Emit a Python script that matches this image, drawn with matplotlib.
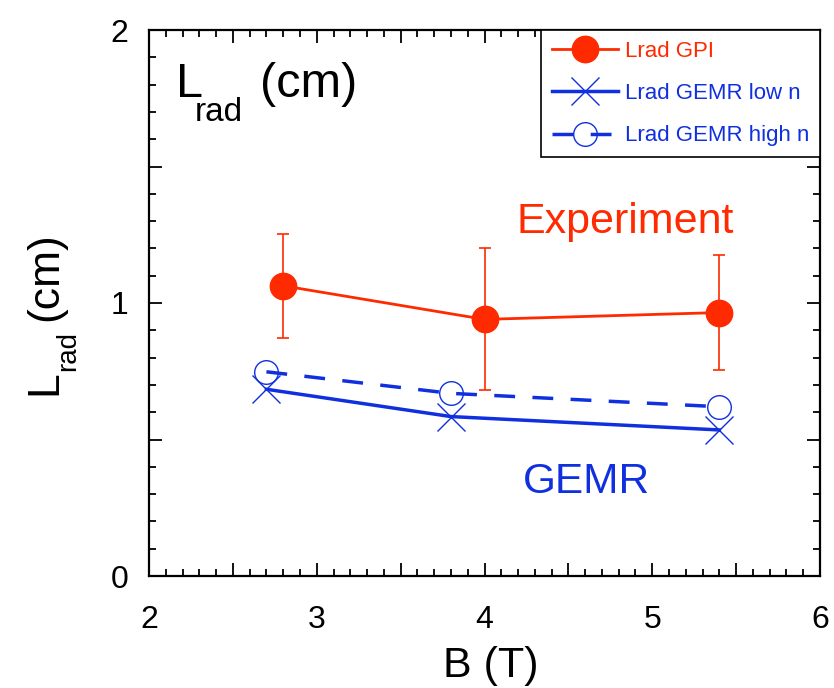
import matplotlib
matplotlib.use("Agg")
import matplotlib.pyplot as plt
from matplotlib.ticker import MultipleLocator, FuncFormatter

plt.rcParams['font.family'] = ['Liberation Sans', 'DejaVu Sans']

# data
b_gpi = [2.8, 4.0, 5.4]
l_gpi = [1.063, 0.940, 0.965]
err_gpi = [0.19, 0.26, 0.21]

b_gemr = [2.7, 3.8, 5.4]
l_gemr_low = [0.684, 0.584, 0.535]
l_gemr_high = [0.748, 0.669, 0.620]

red = '#ff2a00'
blue = '#1030e0'

W, H = 834, 688
fig = plt.figure(figsize=(W / 100, H / 100), dpi=100)
ax = fig.add_axes([149 / W, 1 - 576 / H, (820 - 149) / W, (576 - 30) / H])


def ftext(x, y, s, **kw):
    return fig.text(x / W, 1 - y / H, s, **kw)


eb = ax.errorbar(b_gpi, l_gpi, yerr=err_gpi, color=red, lw=2.0, marker='o', ms=19,
                 elinewidth=1.2, capsize=4, capthick=1.2, label='Lrad GPI', zorder=3)
ln_low, = ax.plot(b_gemr, l_gemr_low, color=blue, lw=2.5, marker='x', ms=20, mew=1.0,
                  label='Lrad GEMR low n', zorder=2)
ln_high, = ax.plot(b_gemr, l_gemr_high, color=blue, lw=2.5, ls=(0, (6, 5)), marker='o',
                   ms=17, mfc='none', mew=1.0, label='Lrad GEMR high n', zorder=2)

ax.set_xlim(2, 6)
ax.set_ylim(0, 2)
ax.xaxis.set_major_locator(MultipleLocator(0.5))
ax.xaxis.set_minor_locator(MultipleLocator(0.1))
ax.yaxis.set_major_locator(MultipleLocator(0.5))
ax.yaxis.set_minor_locator(MultipleLocator(0.1))
fmt = FuncFormatter(lambda v, p: f"{int(round(v))}" if abs(v - round(v)) < 1e-6 else "")
ax.xaxis.set_major_formatter(fmt)
ax.yaxis.set_major_formatter(fmt)
ax.tick_params(which='both', direction='in', top=True, right=True, width=1.3)
ax.tick_params(which='major', length=9.5, labelsize=23)
ax.tick_params(axis='x', which='major', pad=21)
ax.tick_params(axis='y', which='major', pad=15)
ax.tick_params(which='minor', length=5)
for s in ax.spines.values():
    s.set_linewidth(1.6)

# x label
ftext(491, 677, 'B (T)', fontsize=31, ha='center', va='baseline')

# y label built from parts (L, subscript rad, (cm))
ftext(56, 395, 'L', fontsize=32, rotation=90, rotation_mode='anchor', ha='left', va='baseline')
ftext(75, 371, 'rad', fontsize=20, rotation=90, rotation_mode='anchor', ha='left', va='baseline')
ftext(57, 321, '(cm)', fontsize=32, rotation=90, rotation_mode='anchor', ha='left', va='baseline')

# in-plot label
ftext(176, 97, 'L', fontsize=35, ha='left', va='baseline')
ftext(195, 121, 'rad', fontsize=24, ha='left', va='baseline')
ftext(260, 97, '(cm)', fontsize=35, ha='left', va='baseline')

ax.text(4.84, 1.297, 'Experiment', color=red, fontsize=31, ha='center', va='center')
ax.text(4.605, 0.344, 'GEMR', color=blue, fontsize=30.5, ha='center', va='center')

leg = ax.legend([eb, ln_low, ln_high], ['Lrad GPI', 'Lrad GEMR low n', 'Lrad GEMR high n'],
                loc='upper right', bbox_to_anchor=(1.0, 1.0), fontsize=16,
                frameon=True, fancybox=False, borderaxespad=0, handlelength=2.95,
                labelspacing=0.95, borderpad=0.5, handletextpad=0.3, framealpha=1)
leg.get_frame().set_edgecolor('black')
leg.get_frame().set_linewidth(1.2)
for txt, c in zip(leg.get_texts(), [red, blue, blue]):
    txt.set_color(c)

fig.savefig('out.png', dpi=100)
